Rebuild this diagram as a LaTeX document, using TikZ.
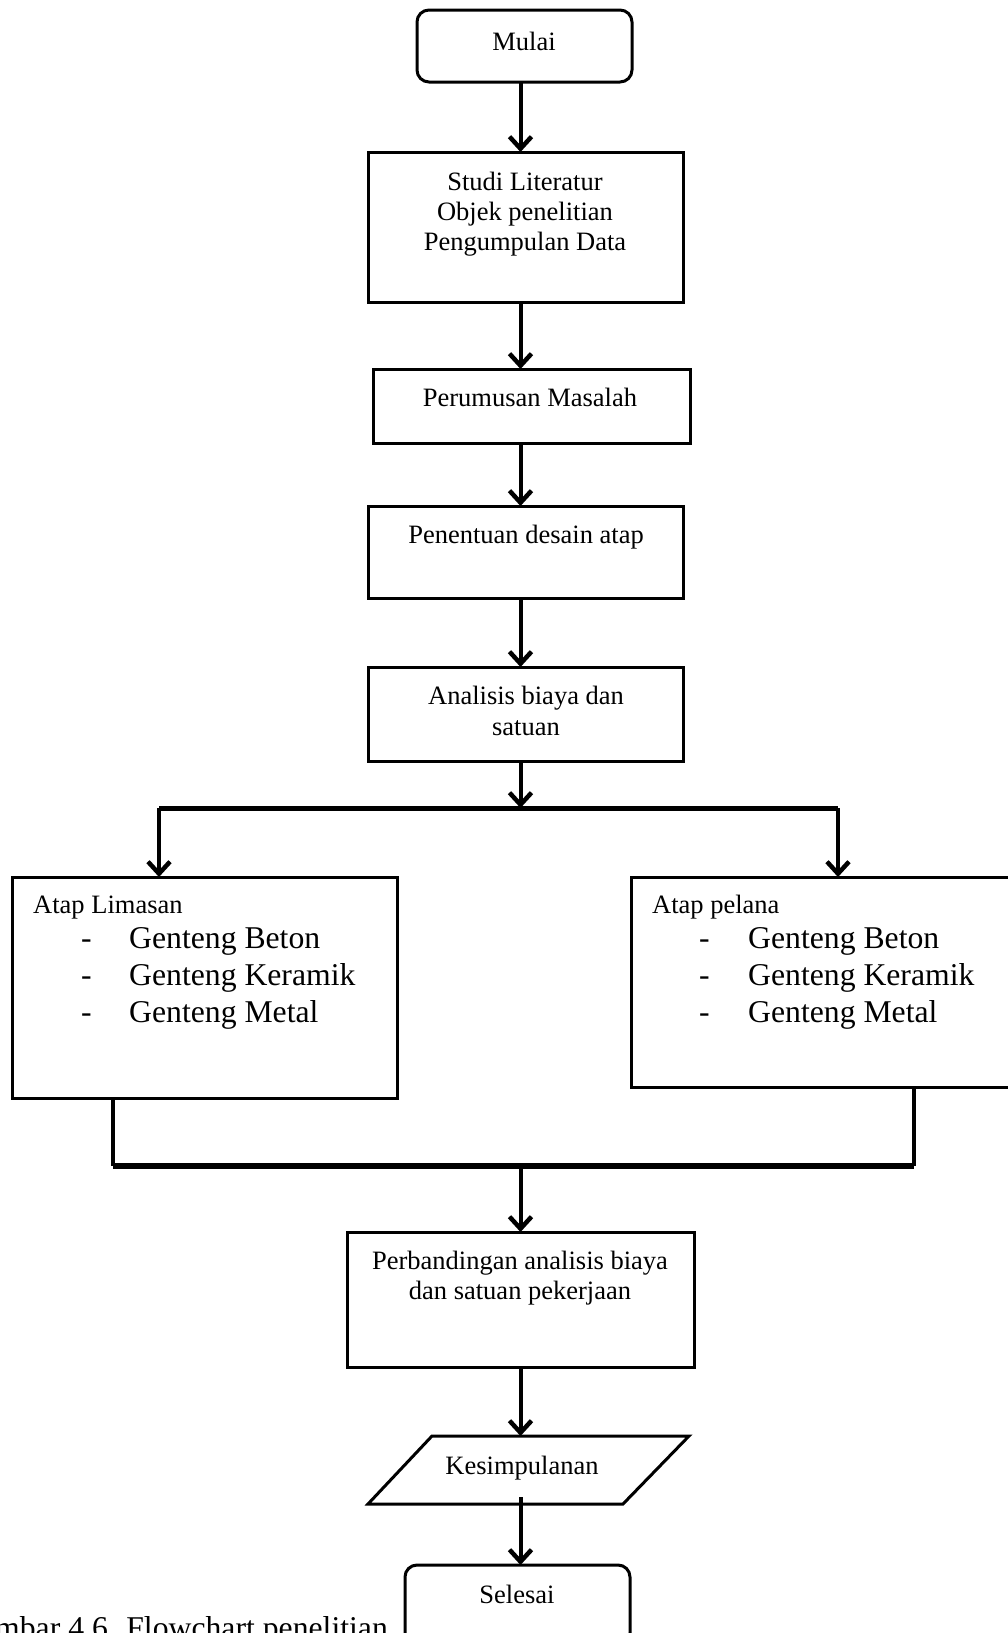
\documentclass[tikz,border=0pt]{standalone}
\usepackage{fontspec}
\setmainfont{Liberation Serif}
\usetikzlibrary{arrows.meta,calc}
\begin{document}
\begin{tikzpicture}[x=1pt,y=-1pt,
  box/.style={draw,line width=3pt,inner sep=0pt,outer sep=0pt,rectangle},
  term/.style={box,rounded corners=12pt},
  txt/.style={anchor=base,inner sep=0pt,font=\fontsize{26.5}{30.5}\selectfont},
  txtw/.style={anchor=base west,inner sep=0pt,font=\fontsize{26.5}{30.5}\selectfont},
  big/.style={anchor=base west,inner sep=0pt,font=\fontsize{31.7}{37}\selectfont},
  arr/.style={line width=4pt,-{Straight Barb[length=12pt,width=22pt,line width=4.5pt]}},
  conn/.style={line width=4pt}]
\useasboundingbox (0,0) rectangle (1008,1633);
\clip (0,0) rectangle (1008,1633);

% boxes
\node[term,minimum width=215,minimum height=72] (mulai) at (524.5,46) {};
\node[box,minimum width=315,minimum height=150] (studi) at (525.5,227) {};
\node[box,minimum width=317,minimum height=74] (rumus) at (531.5,406) {};
\node[box,minimum width=315,minimum height=92] (desain) at (525.5,552) {};
\node[box,minimum width=315,minimum height=94] (analisis) at (525.5,714) {};
\node[box,minimum width=385,minimum height=221] (limasan) at (204.5,987.5) {};
\node[box,minimum width=399,minimum height=210] (pelana) at (830.5,982) {};
\node[box,minimum width=347,minimum height=135] (perb) at (520.5,1299.5) {};
\coordinate (kesT) at (520.5,1436);
\coordinate (kesB) at (520.5,1504);
\draw[line width=3pt,line join=miter] (432,1436) -- (689,1436) -- (623,1504) -- (368,1504) -- cycle;
\node[term,minimum width=225,minimum height=80] (selesai) at (517.5,1605) {};

% texts
\node[txt] (tmulai) at (524,50) {Mulai};
\node[txt] (ts1) at (525,190) {Studi Literatur};
\node[txt] (ts2) at (525,220) {Objek penelitian};
\node[txt] (ts3) at (525,250) {Pengumpulan Data};
\node[txt] (trumus) at (530,406) {Perumusan Masalah};
\node[txt] (tdesain) at (526,543) {Penentuan desain atap};
\node[txt] (ta1) at (526,704) {Analisis biaya dan};
\node[txt] (ta2) at (526,735) {satuan};

\node[txtw] (tlim) at (33,913) {Atap Limasan};
\node[big] (ld1) at (81,948) {-};
\node[big] (ld2) at (81,985) {-};
\node[big] (ld3) at (81,1022) {-};
\node[big] (li1) at (129,948) {Genteng Beton};
\node[big] (li2) at (129,985) {Genteng Keramik};
\node[big] (li3) at (129,1022) {Genteng Metal};

\node[txtw] (tpel) at (652,913) {Atap pelana};
\node[big] (pd1) at (699,948) {-};
\node[big] (pd2) at (699,985) {-};
\node[big] (pd3) at (699,1022) {-};
\node[big] (pi1) at (748,948) {Genteng Beton};
\node[big] (pi2) at (748,985) {Genteng Keramik};
\node[big] (pi3) at (748,1022) {Genteng Metal};

\node[txt] (tp1) at (520,1269) {Perbandingan analisis biaya};
\node[txt] (tp2) at (520,1299) {dan satuan pekerjaan};
\node[txt] (kes) at (522,1474) {Kesimpulanan};
\node[txt] (tsel) at (517,1603) {Selesai};

\node[big] (cap) at (-5,1638) {mbar 4.6. Flowchart penelitian};

% connectors
\coordinate (axis) at (520.5,0);
\coordinate (jl) at (159,808);
\coordinate (jr) at (838,808);
\coordinate (ml) at (113,1166);
\coordinate (mr) at (914,1166);

\draw[arr] (axis |- mulai.south) -- (axis |- studi.north);
\draw[arr] (axis |- studi.south) -- (axis |- rumus.north);
\draw[arr] (axis |- rumus.south) -- (axis |- desain.north);
\draw[arr] (axis |- desain.south) -- (axis |- analisis.north);
\draw[arr] (axis |- analisis.south) -- (axis |- jl);
\draw[line width=5pt] (jl) -- (jr);
\draw[arr] (jl) -- (jl |- limasan.north);
\draw[arr] (jr) -- (jr |- pelana.north);
\draw[conn] (ml |- limasan.south) -- (ml);
\draw[conn] (mr |- pelana.south) -- (mr);
\draw[line width=6pt] (ml) -- (mr);
\draw[arr] (axis |- ml) -- (kesT |- perb.north);
\draw[arr] (axis |- perb.south) -- (kesT);
\draw[arr] ($(kesB)+(0,-7)$) -- (axis |- selesai.north);
\end{tikzpicture}
\end{document}
